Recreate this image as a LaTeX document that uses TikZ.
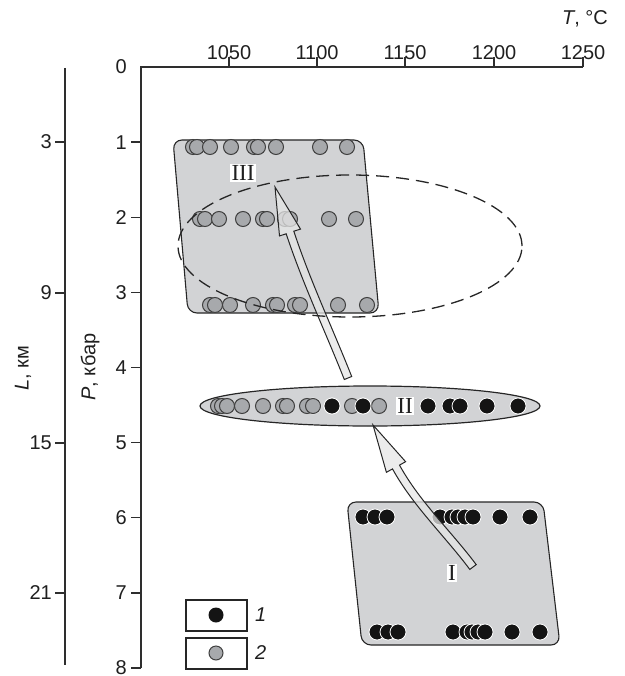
\documentclass[tikz,border=0pt]{standalone}
\usepackage{fontspec}
\setmainfont{Liberation Sans}
\newfontfamily\romanfont{Liberation Serif}
\definecolor{regiongray}{HTML}{D2D3D5}
\definecolor{dotgray}{HTML}{A7A9AC}
\definecolor{arrowgray}{HTML}{E6E6E6}
\definecolor{axisgray}{HTML}{2E2E2E}
\begin{document}
\begin{tikzpicture}[x=1pt,y=-1pt,
  axisline/.style={draw=axisgray, line width=1.4pt},
  lbl/.style={font=\fontsize{20}{22}\selectfont, inner sep=0pt, text=black!88},
  region/.style={fill=regiongray, draw=black!85, line width=1.1pt, rounded corners=9pt},
  gdot/.style={fill=dotgray, draw=black!75, line width=1pt},
  bdot/.style={fill=black!92, draw=white, line width=0.8pt},
  roman/.style={font=\romanfont\fontsize{23}{25}\selectfont, fill=white, inner sep=1.2pt, text=black!88},
  fatarrow/.style={fill=arrowgray, fill opacity=0.75, draw=black!85, line width=1pt, line join=miter},
  legbox/.style={draw=black!85, line width=1.1pt}]
\useasboundingbox (0,0) rectangle (624,676);

% ---------- axes ----------
\draw[axisline] (141,668) -- (141,67) -- (583,67);
\foreach \t/\xx in {1050/229,1100/317,1150/405,1200/494,1250/583}{
  \draw[axisline] (\xx,67) -- (\xx,57);
  \node[lbl, anchor=base] (t\t) at (\xx,60) {\t};
}
\node[lbl, anchor=base east] (tlabel) at (608,25) {\textit{T}, °C};
\node[lbl, anchor=east] (p0) at (127,67) {0};
\foreach \p in {1,...,8}{
  \draw[axisline] (131,67+75.125*\p) -- (141,67+75.125*\p);
  \node[lbl, anchor=east] (p\p) at (127,67+75.125*\p) {\p};
}
\node[lbl, rotate=90] (plabel) at (90,367) {\textit{P}, кбар};

\draw[axisline] (65,68) -- (65,665);
\foreach \l/\yy in {3/142,9/293,15/443,21/593}{
  \draw[axisline] (55,\yy) -- (65,\yy);
  \node[lbl, anchor=east] (l\l) at (52,\yy) {\l};
}
\node[lbl, rotate=90] (llabel) at (23,368) {\textit{L}, км};

% ---------- region III ----------
\path[region] (173,140) -- (363,140) -- (379,313) -- (188,313) -- cycle;
\foreach \x in {193,197,210,231,254,258,276,320,347}
  \draw[gdot] (\x,147) circle[radius=7.5pt];
\foreach \x in {200,205,219,243,263,267,285,290,329,356}
  \draw[gdot] (\x,219) circle[radius=7.5pt];
\foreach \x in {210,215,230,253,273,277,295,300,338,367}
  \draw[gdot] (\x,305) circle[radius=7.5pt];
\node[roman] (rIII) at (243,173) {III};

% ---------- region I ----------
\path[region] (347,502) -- (543,502) -- (560,645) -- (362,645) -- cycle;
\foreach \x in {363,375,387,440,452,458,465,473,500,530}
  \draw[bdot] (\x,517) circle[radius=8pt];
\foreach \x in {377,388,398,453,467,472,478,485,512,540}
  \draw[bdot] (\x,632) circle[radius=8pt];
\node[roman] (rI) at (452,573) {I};

% ---------- region II ----------
\draw[fill=regiongray, draw=black!85, line width=1.2pt] (370,406) ellipse [x radius=170pt, y radius=20pt];
\foreach \x in {313,332,363}
  \draw[bdot] (\x,406) circle[radius=8pt];
\foreach \x in {218,222,227,242,263,283,287,307,352,379}
  \draw[gdot] (\x,406) circle[radius=7.5pt];
\draw[gdot] (313,406) circle[radius=7.5pt];
\draw[bdot] (332,406) circle[radius=8pt];
\draw[bdot] (363,406) circle[radius=8pt];
\foreach \x in {428,450,460,487,518}
  \draw[bdot] (\x,406) circle[radius=8pt];
\node[roman] (rII) at (405,406) {II};

% ---------- arrows ----------
\coordinate (a1tip) at (373,425);
\coordinate (a2tip) at (275,187);
\path[fatarrow] (a1tip) -- (405.6,461.7) -- (399.5,465.1)
  .. controls (419.7,501.9) and (451.0,531.0) .. (476.2,564.6)
  -- (469.8,569.4) .. controls (444.6,535.8) and (412.7,505.7) .. (392.5,468.9)
  -- (386.4,472.3) -- cycle;
\path[fatarrow] (a2tip) -- (300.5,229.1) -- (293.8,231.2)
  .. controls (310.1,280.6) and (332.5,328.1) .. (351.7,376.5)
  -- (344.3,379.5) .. controls (325.1,331.1) and (302.5,283.2) .. (286.2,233.8)
  -- (279.5,235.9) -- cycle;

% ---------- dashed ellipse ----------
\draw[draw=black!85, line width=1.3pt, dash pattern=on 13pt off 7pt]
  (350,246) ellipse [x radius=172pt, y radius=71pt];

% ---------- legend ----------
\draw[legbox] (186,600) rectangle (247,631);
\draw[legbox] (186,638) rectangle (247,669);
\fill[black!92] (216,615) circle[radius=7.5pt];
\draw[gdot] (216,653) circle[radius=7pt];
\node[lbl, anchor=west] (leg1) at (255,615) {\textit{1}};
\node[lbl, anchor=west] (leg2) at (255,653) {\textit{2}};
\end{tikzpicture}
\end{document}
